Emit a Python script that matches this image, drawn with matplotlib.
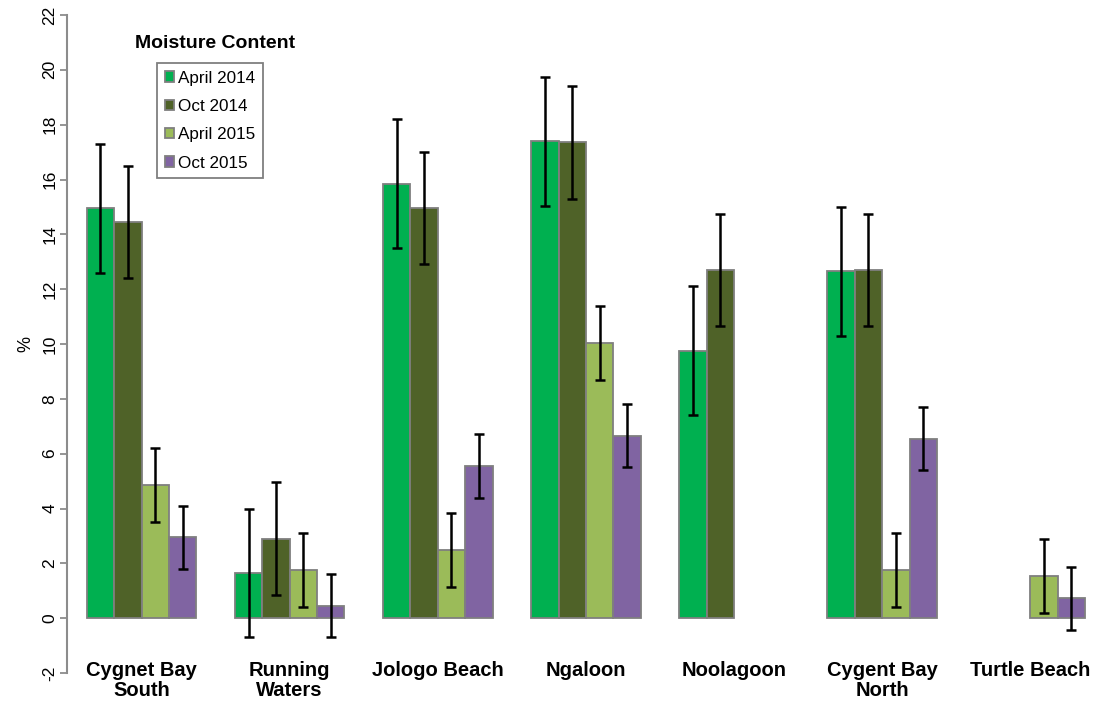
import matplotlib.pyplot as plt
import numpy as np

SITES = ["Cygnet Bay\nSouth", "Running\nWaters", "Jologo Beach", "Ngaloon",
         "Noolagoon", "Cygent Bay\nNorth", "Turtle Beach"]
SERIES = ["April 2014", "Oct 2014", "April 2015", "Oct 2015"]
COLORS = ["#00b050", "#4f6228", "#9bbb59", "#8064a2"]

# nan = no bar for that site
APRIL_2014 = [14.95, 1.65, 15.85, 17.4, 9.75, 12.65, np.nan]
OCT_2014 = [14.45, 2.9, 14.95, 17.35, 12.7, 12.7, np.nan]
APRIL_2015 = [4.85, 1.75, 2.5, 10.05, np.nan, 1.75, 1.55]
OCT_2015 = [2.95, 0.45, 5.55, 6.65, np.nan, 6.55, 0.72]
ERRORS = [2.35, 2.05, 1.35, 1.15]

plt.rcParams["font.family"] = ["Liberation Sans", "DejaVu Sans"]

fig = plt.figure(figsize=(10.94, 7.02), dpi=100)
ax = fig.add_axes([67 / 1094, 1 - 673 / 702, 1 - 67 / 1094, (673 - 15) / 702])

x = np.arange(len(SITES))
width = 0.185
values = [APRIL_2014, OCT_2014, APRIL_2015, OCT_2015]
for i, (name, vals, color, err) in enumerate(zip(SERIES, values, COLORS, ERRORS)):
    vals = np.array(vals)
    pos = x + (i - 1.5) * width
    mask = ~np.isnan(vals)
    ax.bar(pos[mask], vals[mask], width, color=color, edgecolor="#7f7f7f",
           linewidth=1.3, label=name, zorder=2)
    ax.errorbar(pos[mask], vals[mask], yerr=err, fmt="none", ecolor="black",
                elinewidth=1.8, capsize=3.5, capthick=1.8, zorder=3)

ax.set_xlim(-0.503, 6.43)
ax.set_ylim(-2, 22)
ax.set_yticks(range(-2, 23, 2))
ax.set_yticklabels([str(v) for v in range(-2, 23, 2)], rotation=90,
                   va="center", fontsize=12.5)
ax.set_xticks(x)
ax.set_xticklabels(SITES, fontsize=14.5, fontweight="bold", linespacing=1.1)
ax.tick_params(axis="x", length=0, pad=-9)
ax.tick_params(axis="y", direction="out", length=5, color="#8c8c8c", width=1.3, pad=2)
for side in ["top", "right", "bottom"]:
    ax.spines[side].set_visible(False)
ax.spines["left"].set_color("#8c8c8c")
ax.spines["left"].set_linewidth(1.5)
ax.set_ylabel("%", fontsize=13, labelpad=6)

ax.text(68 / 1027, 1 - 28 / 658, "Moisture Content", transform=ax.transAxes,
        fontsize=14, fontweight="bold", ha="left", va="center")
leg = ax.legend(loc="upper left", bbox_to_anchor=(90 / 1027, 1 - 48 / 658), fontsize=12.3,
                handlelength=0.55, handleheight=0.55, handletextpad=0.25,
                labelspacing=0.78, borderpad=0.45, borderaxespad=0,
                fancybox=False, framealpha=1)
leg.get_frame().set_edgecolor("#7f7f7f")
leg.get_frame().set_linewidth(1.3)

fig.savefig("out.png", dpi=100)
